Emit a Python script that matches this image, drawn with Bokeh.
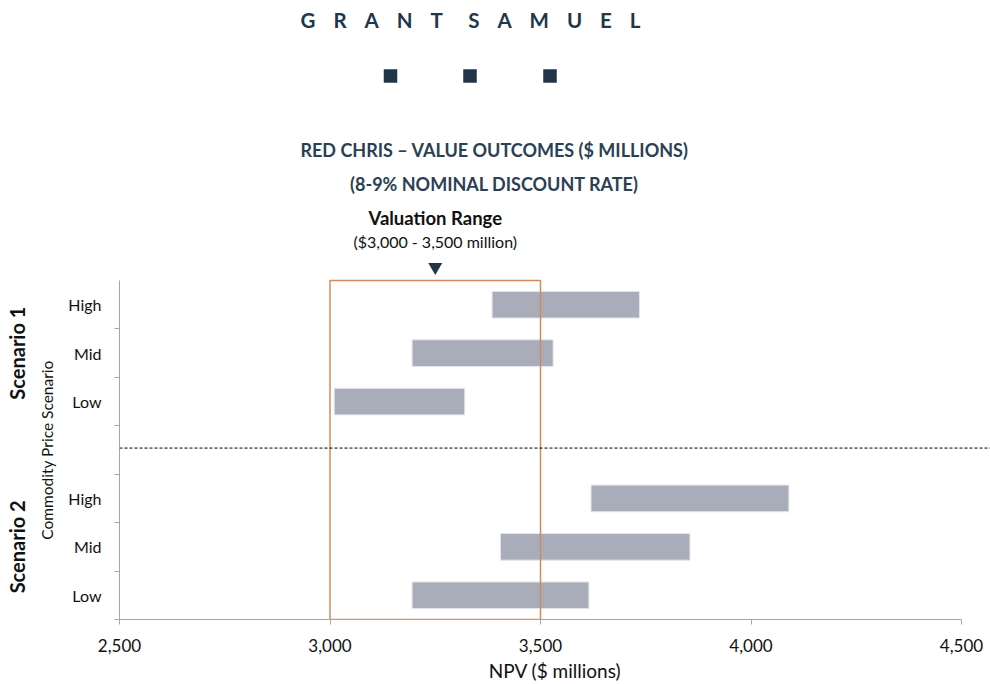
import math
from bokeh.plotting import figure
from bokeh.models import (Range1d, FixedTicker, NumeralTickFormatter, Span, Label, LinearAxis)
from bokeh.embed import file_html
from bokeh.resources import INLINE

# ---------------- data ----------------
brand = "GRANT SAMUEL"
title_lines = ["RED CHRIS \u2013 VALUE OUTCOMES ($ MILLIONS)", "(8-9% NOMINAL DISCOUNT RATE)"]
range_title = "Valuation Range"
range_subtitle = "($3,000 - 3,500 million)"
scenarios = ["Scenario 1", "Scenario 2"]
price_cases = ["High", "Mid", "Low"]
s1_low = [3385, 3195, 3010]
s1_high = [3735, 3530, 3320]
s2_low = [3620, 3405, 3195]
s2_high = [4090, 3855, 3615]
valuation_range = [3000, 3500]
x_ticks = [2500, 3000, 3500, 4000, 4500]
x_title = "NPV ($ millions)"
y_title = "Commodity Price Scenario"

# ---------------- layout ----------------
W, H = 990, 684
FRAME_LEFT, FRAME_BOTTOM = 119, 619          # page px
AXIS_RIGHT = 961                              # page px of last x tick
PLOT_TOP = 280                                # page px of top of category area
N_SLOTS = 7
slot_px = (FRAME_BOTTOM - PLOT_TOP) / N_SLOTS
x_min, x_max = x_ticks[0], x_ticks[-1]
px_per_unit = (AXIS_RIGHT - FRAME_LEFT) / (x_max - x_min)
frame_w = W - FRAME_LEFT
frame_h = FRAME_BOTTOM

def dx(px):
    return x_min + (px - FRAME_LEFT) / px_per_unit

def dy(py):
    return (FRAME_BOTTOM - py) / slot_px

FONT = "Lato"
NAVY = "#22364A"
TITLE_C = "#2B4052"
GREY_AX = "#A6A6A6"
BAR_C = "#A8ADB9"
ORANGE = "#CF8B5E"
TXT = "#111111"

p = figure(width=W, height=H, output_backend="svg", toolbar_location=None,
           x_range=Range1d(x_min, x_min + frame_w / px_per_unit),
           y_range=Range1d(0, frame_h / slot_px),
           min_border_left=FRAME_LEFT, min_border_right=0,
           min_border_top=0, min_border_bottom=H - FRAME_BOTTOM)
p.outline_line_color = None
p.grid.visible = False
p.background_fill_color = "white"
p.border_fill_color = "white"

# ---------------- bars ----------------
ys, lefts, rights = [], [], []
for si, (lo, hi) in enumerate([(s1_low, s1_high), (s2_low, s2_high)]):
    for ci in range(len(price_cases)):
        slot = N_SLOTS - 1 - (si * 4 + ci)
        ys.append(slot + 0.5)
        lefts.append(lo[ci])
        rights.append(hi[ci])
p.hbar(y=ys, left=lefts, right=rights, height=0.55, fill_color=BAR_C,
       line_color="#E3E6EB", line_width=1)

# valuation range box
p.quad(left=[valuation_range[0]], right=[valuation_range[1]], bottom=[0], top=[N_SLOTS],
       fill_color=None, line_color=ORANGE, line_width=1.5)

# separator
p.add_layout(Span(location=3.54, dimension="width", line_color="black",
                  line_dash="3 2", line_width=1))

# ---------------- axes ----------------
xa = p.xaxis[0]
xa.ticker = FixedTicker(ticks=x_ticks, minor_ticks=[])
xa.bounds = (x_min, x_max)
xa.formatter = NumeralTickFormatter(format="0,0")
xa.axis_line_color = GREY_AX
xa.major_tick_line_color = GREY_AX
xa.major_tick_out = 5
xa.major_tick_in = 0
xa.minor_tick_line_color = None
xa.major_label_text_font = FONT
xa.major_label_text_font_size = "17px"
xa.major_label_text_color = TXT
xa.major_label_text_line_height = 1.0
xa.major_label_standoff = 14
xa.axis_label = x_title
xa.axis_label_text_font = FONT
xa.axis_label_text_font_style = "normal"
xa.axis_label_text_font_size = "19px"
xa.axis_label_text_color = TXT
xa.axis_label_text_line_height = 1.0
xa.axis_label_standoff = 4

ya = p.yaxis[0]
centers = [0.5, 1.5, 2.5, 4.5, 5.5, 6.5]
labels = ["Low", "Mid", "High", "Low", "Mid", "High"]
ya.ticker = FixedTicker(ticks=centers, minor_ticks=[0, 1, 2, 3, 4, 5, 6])
ya.major_label_overrides = {c: l for c, l in zip(centers, labels)}
ya.bounds = (0, N_SLOTS)
ya.axis_line_color = GREY_AX
ya.major_tick_line_color = None
ya.major_tick_out = 0
ya.major_tick_in = 0
ya.minor_tick_line_color = GREY_AX
ya.minor_tick_out = 5
ya.minor_tick_in = 0
ya.major_label_text_font = FONT
ya.major_label_text_font_size = "16px"
ya.major_label_text_color = TXT
ya.major_label_standoff = 13

def side_axis(ticks, names, size, bold, standoff):
    ax = LinearAxis(ticker=FixedTicker(ticks=ticks, minor_ticks=[]), bounds=(0, N_SLOTS))
    ax.major_label_overrides = {c: s for c, s in zip(ticks, names)}
    ax.major_label_orientation = "vertical"
    ax.axis_line_color = None
    ax.major_tick_line_color = None
    ax.minor_tick_line_color = None
    ax.major_tick_out = 0
    ax.major_tick_in = 0
    ax.major_label_text_font = FONT
    ax.major_label_text_font_style = "bold" if bold else "normal"
    ax.major_label_text_font_size = size
    ax.major_label_text_color = TXT
    ax.major_label_standoff = standoff
    p.add_layout(ax, "left")

# axis title (centred on the category block) and scenario names
side_axis([N_SLOTS / 2], [y_title], "15.5px", False, 10)
side_axis([5.5, 1.5], scenarios, "20px", True, 5)

# ---------------- texts / decorations ----------------
def lab(text, px, py, size, color=TXT, bold=False, font=FONT):
    p.add_layout(Label(x=dx(px), y=dy(py), text=text, text_font=font,
                       text_font_size=size, text_color=color,
                       text_font_style="bold" if bold else "normal",
                       text_align="center", text_baseline="middle"))

sep = "\u2003\u2009"
spaced_brand = (sep + "\u2009 ").join(sep.join(w) for w in brand.split(" "))
lab(spaced_brand, 470, 19, "20.5px", color=NAVY, bold=True)
p.scatter(x=[dx(390), dx(469.5), dx(549.5)], y=[dy(75.5)] * 3, marker="square",
          size=13.5, fill_color=NAVY, line_color=None)

lab(title_lines[0], 494, 149, "18px", color=TITLE_C, bold=True)
lab(title_lines[1], 494, 183, "18px", color=TITLE_C, bold=True)

mid_val = sum(valuation_range) / 2
p.add_layout(Label(x=mid_val, y=dy(217), text=range_title, text_font=FONT,
                   text_font_size="18.5px", text_font_style="bold", text_color=TXT,
                   text_align="center", text_baseline="middle"))
p.add_layout(Label(x=mid_val, y=dy(241), text=range_subtitle, text_font=FONT,
                   text_font_size="16px", text_color=TXT,
                   text_align="center", text_baseline="middle"))
p.scatter(x=[mid_val], y=[dy(266.5)], marker="inverted_triangle", size=14,
          fill_color=NAVY, line_color=None)

open("out.html", "w").write(file_html(p, INLINE))
